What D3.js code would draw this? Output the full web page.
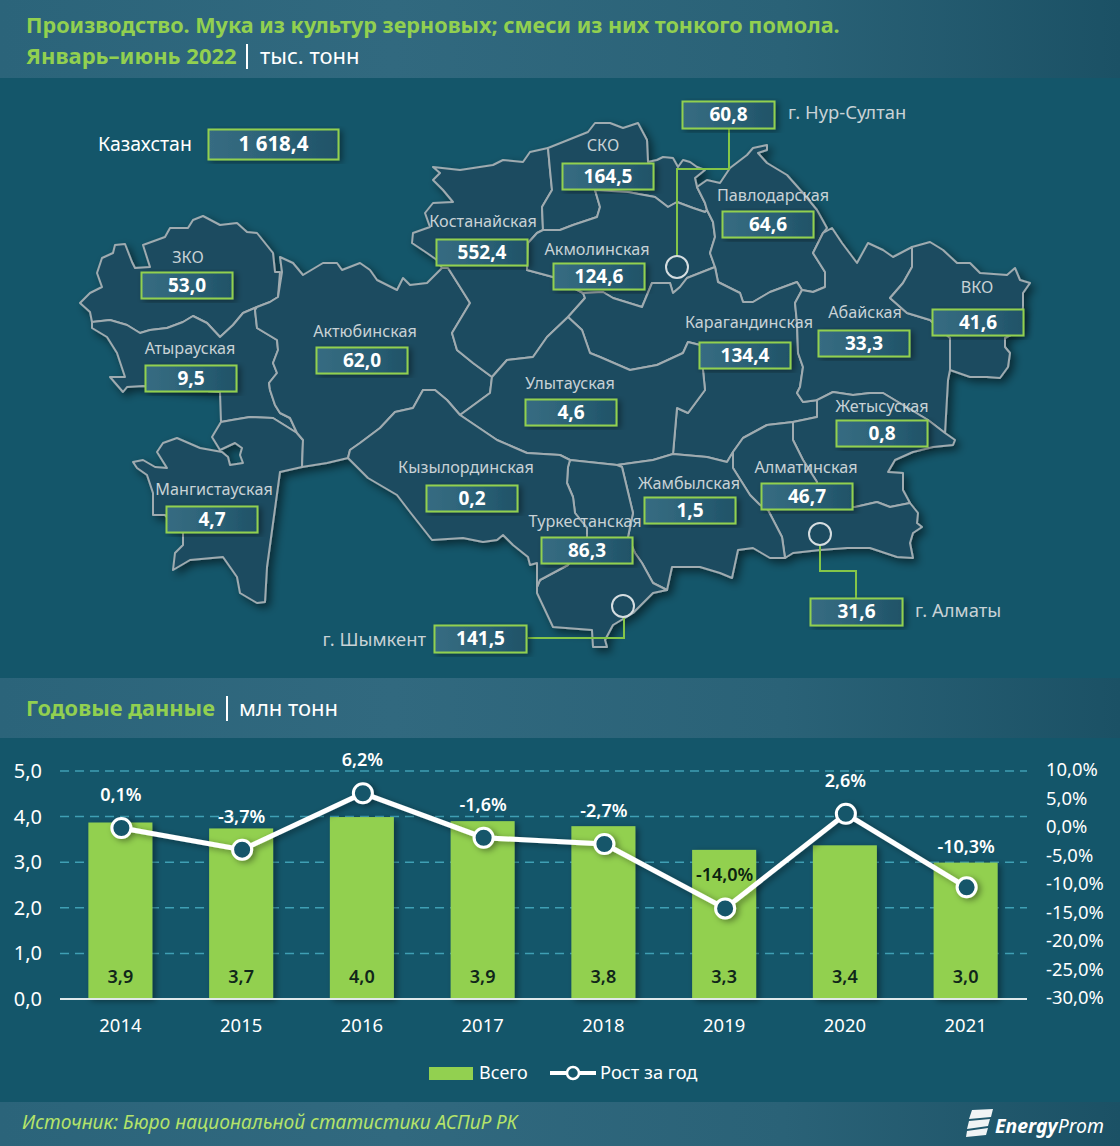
<!DOCTYPE html>
<html>
<head>
<meta charset="utf-8">
<script src="https://cdn.jsdelivr.net/npm/d3@7"></script>
<style>
  html, body { margin: 0; padding: 0; background: #14566a; }
  svg { display: block; }
  text { font-family: "Noto Sans", "Open Sans", sans-serif; }
  .region-label { fill: #c8d2d6; font-size: 16.2px; text-anchor: middle; }
  .box-value { fill: #fff; font-size: 19px; font-weight: 700; text-anchor: middle; }
  .tick text { fill: #fff; font-size: 18.4px; }
  .left-axis .tick text { font-size: 20px; }
</style>
</head>
<body>
<svg id="chart" width="1120" height="1146"></svg>
<script>
// Map values, thousand tons
var regionNames = ["ЗКО", "Атырауская", "Мангистауская", "Актюбинская", "Костанайская", "СКО", "Акмолинская", "Павлодарская",
  "Карагандинская", "Улытауская", "Абайская", "ВКО", "Жетысуская", "Алматинская", "Жамбылская", "Туркестанская", "Кызылординская"];
var regionValues = [53.0, 9.5, 4.7, 62.0, 552.4, 164.5, 124.6, 64.6, 134.4, 4.6, 33.3, 41.6, 0.8, 46.7, 1.5, 86.3, 0.2];
var cityNames = ["г. Нур-Султан", "г. Алматы", "г. Шымкент"];
var cityValues = [60.8, 31.6, 141.5];
var totalName = "Казахстан";
var totalValue = 1618.4;

// Yearly values
var years = ["2014", "2015", "2016", "2017", "2018", "2019", "2020", "2021"];
var totals = [3.87, 3.74, 3.99, 3.90, 3.79, 3.27, 3.37, 2.99];
var growth = [0.1, -3.7, 6.2, -1.6, -2.7, -14.0, 2.6, -10.3];
var leftTicks = [0, 1, 2, 3, 4, 5];
var rightTicks = [-30, -25, -20, -15, -10, -5, 0, 5, 10];

// Region outlines
var outlines = {
  "ЗКО": [[80,303],[90,293],[102,287],[97,273],[102,258],[113,253],[115,245],[125,244],[132,262],[135,268],[150,267],[143,245],[165,237],[170,228],[188,228],[193,220],[203,216],[220,225],[237,223],[247,232],[257,233],[273,253],[275,272],[280,272],[278,297],[270,302],[257,307],[243,313],[233,325],[220,337],[207,323],[193,316],[183,322],[167,328],[150,330],[140,333],[127,325],[110,320],[92,322],[90,312]],
  "Атырауская": [[92,322],[110,320],[127,325],[140,333],[150,330],[167,328],[183,322],[193,316],[207,323],[220,337],[233,325],[243,313],[257,307],[255,310],[257,328],[277,340],[278,350],[273,363],[277,373],[269,383],[270,390],[275,405],[280,413],[290,418],[297,433],[273,418],[250,417],[232,420],[221,422],[220,392],[143,386],[127,387],[123,392],[110,377],[125,377],[117,353],[107,337],[92,328]],
  "Мангистауская": [[221,422],[232,420],[250,417],[273,418],[297,433],[303,440],[302,467],[280,472],[267,567],[265,602],[257,603],[240,593],[237,577],[223,557],[190,560],[173,570],[175,553],[183,545],[183,533],[165,515],[153,515],[153,493],[147,475],[137,468],[133,462],[143,460],[155,467],[167,468],[157,452],[163,443],[177,438],[200,448],[222,452],[228,457],[230,465],[243,463],[240,455],[242,448],[235,443],[220,450],[212,437]],
  "Актюбинская": [[280,257],[282,272],[278,297],[270,302],[257,307],[255,310],[257,328],[277,340],[278,350],[273,363],[277,373],[269,383],[270,390],[275,405],[280,413],[290,418],[297,433],[303,440],[302,467],[327,463],[348,458],[350,450],[360,443],[380,428],[395,412],[413,408],[423,390],[435,390],[447,400],[460,415],[490,393],[492,377],[473,363],[457,350],[452,333],[470,303],[460,287],[448,268],[442,268],[427,283],[410,285],[403,278],[397,290],[377,280],[370,270],[360,263],[342,270],[337,263],[323,263],[303,275],[293,263]],
  "Костанайская": [[433,167],[460,170],[493,165],[503,160],[523,162],[530,152],[548,148],[550,170],[552,190],[542,207],[543,230],[537,233],[528,243],[527,270],[553,277],[583,293],[585,298],[568,317],[547,337],[533,357],[507,360],[492,377],[473,363],[457,350],[452,333],[470,303],[460,287],[448,268],[442,268],[437,260],[427,253],[412,243],[413,233],[430,227],[425,213],[433,203],[453,202],[443,190],[433,180],[440,173]],
  "СКО": [[548,148],[573,138],[588,132],[595,123],[610,123],[623,128],[638,123],[647,140],[648,162],[657,160],[663,157],[673,158],[678,167],[683,160],[690,162],[697,167],[705,170],[695,178],[697,187],[705,203],[707,210],[705,212],[693,208],[677,202],[668,207],[655,197],[628,192],[600,192],[595,190],[600,207],[597,217],[573,225],[560,230],[543,230],[542,207],[552,190],[550,170]],
  "Акмолинская": [[543,230],[560,230],[573,225],[597,217],[600,207],[595,190],[628,192],[655,197],[668,207],[677,202],[693,208],[705,212],[707,210],[713,222],[715,237],[710,253],[715,267],[687,278],[680,287],[673,293],[670,283],[652,283],[642,307],[613,298],[603,292],[583,293],[553,277],[527,270],[528,243],[537,233]],
  "Павлодарская": [[730,168],[747,155],[753,148],[767,145],[767,150],[758,153],[767,163],[787,175],[803,193],[817,210],[827,228],[823,233],[813,253],[825,272],[825,287],[813,292],[802,290],[797,282],[770,292],[753,302],[743,302],[740,293],[718,282],[715,267],[710,253],[715,237],[713,222],[707,210],[705,203],[697,187],[707,180],[720,183]],
  "Карагандинская": [[568,317],[585,298],[583,293],[603,292],[613,298],[642,307],[652,283],[670,283],[673,293],[680,287],[687,278],[715,267],[718,282],[740,293],[743,302],[753,302],[770,292],[797,282],[802,290],[795,303],[797,323],[798,353],[803,367],[800,387],[797,393],[803,402],[817,400],[817,417],[793,422],[767,425],[743,438],[733,452],[727,462],[707,457],[673,454],[677,408],[688,413],[705,390],[703,370],[700,345],[688,342],[683,353],[657,365],[630,370],[600,357],[590,353],[582,330]],
  "Улытауская": [[460,415],[490,393],[492,377],[507,360],[533,357],[547,337],[568,317],[582,330],[590,353],[600,357],[630,370],[657,365],[683,353],[688,342],[700,345],[703,370],[705,390],[688,413],[677,408],[673,454],[653,460],[617,465],[570,460],[560,455],[527,453],[497,440]],
  "Абайская": [[823,233],[832,228],[842,243],[857,263],[868,243],[883,250],[893,257],[912,247],[912,267],[903,283],[890,298],[907,313],[930,320],[950,338],[950,370],[948,380],[945,433],[928,420],[883,393],[870,393],[853,395],[833,392],[818,400],[803,402],[797,393],[800,387],[803,367],[798,353],[797,323],[795,303],[802,290],[813,292],[825,287],[825,272],[813,253]],
  "ВКО": [[912,247],[930,242],[943,250],[957,263],[970,263],[980,273],[1007,275],[1015,268],[1020,280],[1030,283],[1023,293],[1023,307],[1020,330],[1005,338],[1005,347],[1010,353],[1008,367],[1000,378],[987,377],[970,377],[950,370],[950,338],[930,320],[907,313],[890,298],[903,283],[912,267]],
  "Жетысуская": [[817,417],[817,400],[833,392],[853,395],[870,393],[883,393],[928,420],[945,433],[955,440],[953,445],[933,447],[913,452],[895,460],[888,472],[903,473],[903,490],[910,503],[890,507],[877,502],[855,507],[817,507],[817,482],[803,460],[793,440],[793,422]],
  "Алматинская": [[733,452],[743,438],[767,425],[793,422],[793,440],[803,460],[817,482],[817,507],[855,507],[877,502],[890,507],[910,503],[918,513],[917,523],[922,527],[913,533],[910,543],[913,558],[897,557],[870,548],[847,548],[820,550],[793,553],[785,558],[782,537],[768,510],[760,505],[750,495],[733,468]],
  "Жамбылская": [[617,465],[653,460],[673,454],[707,457],[727,462],[733,452],[733,468],[750,495],[760,505],[768,510],[782,537],[785,558],[770,558],[753,548],[738,550],[732,578],[720,573],[700,567],[672,567],[667,590],[653,583],[642,563],[635,553],[628,537],[633,513],[622,467]],
  "Туркестанская": [[570,460],[617,465],[622,467],[633,513],[628,537],[635,553],[642,563],[653,583],[667,590],[653,593],[633,613],[613,625],[605,640],[607,647],[593,647],[592,630],[553,627],[537,593],[537,587],[540,580],[568,565],[587,537],[587,528],[575,513],[573,497],[567,483],[568,467]],
  "Кызылординская": [[348,458],[350,450],[360,443],[380,428],[395,412],[413,408],[423,390],[435,390],[447,400],[460,415],[497,440],[527,453],[560,455],[570,460],[568,467],[567,483],[573,497],[575,513],[587,528],[587,537],[568,565],[540,580],[537,587],[537,563],[530,565],[528,557],[513,545],[503,535],[497,540],[483,542],[463,538],[432,540],[410,512],[397,495],[368,478]]
};

// Where the label and the value box of each map entry sit: [box x, box y, label x, label y]
var placement = {
  "ЗКО": [141,272,188,257], "Атырауская": [145,365,190,348], "Мангистауская": [166,506,214,489],
  "Актюбинская": [316,347,365,331], "Костанайская": [436,239,483,221], "СКО": [562,163,603,145],
  "Акмолинская": [553,263,597,249], "Павлодарская": [722,211,773,195], "Карагандинская": [699,342,749,322],
  "Улытауская": [525,399,570,383], "Абайская": [818,330,865,312], "ВКО": [932,309,977,287],
  "Жетысуская": [836,420,882,406], "Алматинская": [761,483,806,467], "Жамбылская": [644,497,689,483],
  "Туркестанская": [541,537,585,521], "Кызылординская": [426,485,466,467]
};
var cityPlacement = {
  "г. Нур-Султан": { box: [682,101], label: [788,113], circle: [677,267], path: [[729,128],[729,169],[677,169],[677,256]] },
  "г. Алматы": { box: [810,598], label: [915,611], circle: [820,534], path: [[820,545],[820,571],[856,571],[856,598]] },
  "г. Шымкент": { box: [434,625], label: [426,640], circle: [623,606], path: [[528,638],[624,638],[624,617]] }
};

var green = "#92d050";
var bg = "#14566a";
var svg = d3.select("#chart");
var defs = svg.append("defs");
var ru = d3.formatLocale({ decimal: ",", thousands: " ", grouping: [3], currency: ["", ""], minus: "-" });
var f1 = ru.format(",.1f");

function addGradient(id, stops) {
  var g = defs.append("linearGradient").attr("id", id);
  stops.forEach(function (s) {
    g.append("stop").attr("offset", s[0]).attr("stop-color", s[1]);
  });
}
addGradient("band", [[0, "#2b647a"], [0.35, "#31697f"], [0.7, "#2a6277"], [1, "#1b5165"]]);
addGradient("box", [[0, "#376c82"], [0.5, "#2c6277"], [1, "#1f5267"]]);

function addShadow(id, dx, dy, blur, op) {
  defs.append("filter").attr("id", id)
    .attr("x", "-10%").attr("y", "-10%").attr("width", "125%").attr("height", "125%")
    .append("feDropShadow")
    .attr("dx", dx).attr("dy", dy).attr("stdDeviation", blur)
    .attr("flood-color", "#000").attr("flood-opacity", op);
}
addShadow("mapShadow", 4, 4, 4, 0.5);
addShadow("soft", 3, 2, 3, 0.4);

svg.append("rect").attr("width", 1120).attr("height", 1146).attr("fill", bg);

// Bands
svg.append("rect").attr("width", 1120).attr("height", 78).attr("fill", "url(#band)");
svg.append("rect").attr("y", 678).attr("width", 1120).attr("height", 60).attr("fill", "url(#band)");
svg.append("rect").attr("y", 1102).attr("width", 1120).attr("height", 44).attr("fill", "url(#band)");

// Titles
svg.append("text").attr("x", 26).attr("y", 33).attr("fill", green)
  .attr("font-size", 21.6).attr("font-weight", 700)
  .text("Производство. Мука из культур зерновых; смеси из них тонкого помола.");
svg.append("text").attr("x", 26).attr("y", 64).attr("fill", green)
  .attr("font-size", 22).attr("font-weight", 700).text("Январь–июнь 2022");
svg.append("rect").attr("x", 246).attr("y", 44).attr("width", 2).attr("height", 25).attr("fill", "#fff");
svg.append("text").attr("x", 260).attr("y", 64).attr("fill", "#fff")
  .attr("font-size", 22).text("тыс. тонн");
svg.append("text").attr("x", 26).attr("y", 716).attr("fill", green)
  .attr("font-size", 21.8).attr("font-weight", 700).text("Годовые данные");
svg.append("rect").attr("x", 226).attr("y", 696).attr("width", 2).attr("height", 25).attr("fill", "#fff");
svg.append("text").attr("x", 239).attr("y", 716).attr("fill", "#fff")
  .attr("font-size", 22).text("млн тонн");

// Map
var outline = d3.line().curve(d3.curveLinearClosed);
var map = svg.append("g").attr("filter", "url(#mapShadow)");
regionNames.forEach(function (name) {
  map.append("path")
    .attr("d", outline(outlines[name]))
    .attr("fill", "#1e4c60")
    .attr("stroke", "#9fabb0")
    .attr("stroke-width", 2)
    .attr("stroke-linejoin", "round");
});

// Connector lines of the cities
var link = d3.line();
cityNames.forEach(function (name) {
  var c = cityPlacement[name];
  svg.append("path").attr("d", link(c.path)).attr("fill", "none")
    .attr("stroke", "#84c548").attr("stroke-width", 2);
  svg.append("circle").attr("cx", c.circle[0]).attr("cy", c.circle[1]).attr("r", 11)
    .attr("fill", "none").attr("stroke", "#d5dde0").attr("stroke-width", 2);
});

function valueBox(x, y, w, h, text, size) {
  svg.append("rect").attr("x", x + 0.5).attr("y", y + 0.5).attr("width", w - 1).attr("height", h)
    .attr("fill", "url(#box)").attr("stroke", green).attr("stroke-width", 2)
    .attr("filter", "url(#soft)");
  svg.append("text").attr("class", "box-value")
    .attr("x", x + w / 2).attr("y", y + h / 2 + 6.5)
    .style("font-size", size ? size + "px" : null)
    .text(text);
}

regionNames.forEach(function (name, i) {
  var p = placement[name];
  valueBox(p[0], p[1], 92, 26, f1(regionValues[i]));
  svg.append("text").attr("class", "region-label").attr("x", p[2]).attr("y", p[3] + 5.5).text(name);
});

cityNames.forEach(function (name, i) {
  var c = cityPlacement[name];
  valueBox(c.box[0], c.box[1], 93, 27, f1(cityValues[i]));
  svg.append("text").attr("class", "region-label")
    .attr("x", c.label[0]).attr("y", c.label[1] + 6)
    .style("text-anchor", name == "г. Шымкент" ? "end" : "start")
    .style("font-size", "18.4px")
    .text(name);
});

valueBox(208, 129, 131, 30, f1(totalValue), 20.5);
svg.append("text").attr("x", 98).attr("y", 151).attr("fill", "#fff").attr("font-size", 19.5).text(totalName);

// Yearly chart
var xBand = d3.scaleBand().domain(years).range([60, 1026]).paddingInner(0.47).paddingOuter(0.235);
var yLeft = d3.scaleLinear().domain([0, 5]).range([999, 771]);
var yRight = d3.scaleLinear().domain([-30, 10]).range([999.6, 771.6]);
var center = function (d) { return xBand(d) + xBand.bandwidth() / 2; };

leftTicks.slice(1).forEach(function (t) {
  svg.append("line").attr("x1", 60).attr("x2", 1027).attr("y1", yLeft(t)).attr("y2", yLeft(t))
    .attr("stroke", "#3f9fb4").attr("stroke-width", 1.5).attr("stroke-dasharray", "9 6");
});

var barGroup = svg.append("g").attr("filter", "url(#soft)");
years.forEach(function (y, i) {
  barGroup.append("rect").attr("x", xBand(y)).attr("width", xBand.bandwidth())
    .attr("y", yLeft(totals[i])).attr("height", yLeft(0) - yLeft(totals[i]))
    .attr("fill", "#92d050");
});

svg.append("line").attr("x1", 60).attr("x2", 1027).attr("y1", 999).attr("y2", 999)
  .attr("stroke", "#dfe8ea").attr("stroke-width", 2);

years.forEach(function (y, i) {
  svg.append("text").attr("x", center(y)).attr("y", 983).attr("text-anchor", "middle")
    .attr("fill", "#10261a").attr("font-size", 18).attr("font-weight", 600).text(f1(totals[i]));
});

// Axes
var leftAxis = d3.axisLeft(yLeft).tickValues(leftTicks).tickSize(0).tickPadding(0).tickFormat(f1);
svg.append("g").attr("class", "left-axis").attr("transform", "translate(42,0)").call(leftAxis).call(function (g) { g.select(".domain").remove(); });

var rightAxis = d3.axisRight(yRight).tickValues(rightTicks).tickSize(0).tickPadding(0)
  .tickFormat(function (d) { return f1(d) + "%"; });
svg.append("g").attr("transform", "translate(1046,-1.5)").call(rightAxis).call(function (g) { g.select(".domain").remove(); });

var bottomAxis = d3.axisBottom(xBand).tickSize(0).tickPadding(0);
svg.append("g").attr("transform", "translate(0,1016)").call(bottomAxis).call(function (g) { g.select(".domain").remove(); })
  .selectAll("text").attr("y", 3);

// Growth line
var growthLine = d3.line()
  .x(function (d, i) { return center(years[i]) + 1; })
  .y(function (d) { return yRight(d); });
var lineGroup = svg.append("g").attr("filter", "url(#soft)");
lineGroup.append("path").attr("d", growthLine(growth)).attr("fill", "none")
  .attr("stroke", "#fff").attr("stroke-width", 5);
growth.forEach(function (d, i) {
  lineGroup.append("circle").attr("cx", center(years[i]) + 1).attr("cy", yRight(d)).attr("r", 9.5)
    .attr("fill", bg).attr("stroke", "#fff").attr("stroke-width", 3);
});
growth.forEach(function (d, i) {
  svg.append("text").attr("x", center(years[i]) + 0.5).attr("y", yRight(d) - (d == -10.3 ? 34 : 27))
    .attr("text-anchor", "middle").attr("font-size", 18).attr("font-weight", 600)
    .attr("fill", d == -14 ? "#0c2410" : "#fff")
    .text(f1(d) + "%");
});

// Legend
svg.append("rect").attr("x", 429).attr("y", 1067).attr("width", 44).attr("height", 13).attr("fill", "#92d050");
svg.append("text").attr("x", 479).attr("y", 1079).attr("fill", "#fff").attr("font-size", 18).text("Всего");
svg.append("line").attr("x1", 550).attr("x2", 596).attr("y1", 1073).attr("y2", 1073).attr("stroke", "#fff").attr("stroke-width", 4);
svg.append("circle").attr("cx", 573).attr("cy", 1073).attr("r", 6).attr("fill", bg).attr("stroke", "#fff").attr("stroke-width", 2.5);
svg.append("text").attr("x", 600).attr("y", 1079).attr("fill", "#fff").attr("font-size", 18.3).text("Рост за год");

// Footer
svg.append("text").attr("x", 22).attr("y", 1129).attr("fill", "#b4e36a")
  .attr("font-size", 19.2).attr("font-style", "italic")
  .text("Источник: Бюро национальной статистики АСПиР РК");

// EnergyProm logo stripes
var logoStripes = [
  [[972,1110],[993,1109],[991,1117],[969,1119]],
  [[969,1121],[990,1119],[988,1126],[967,1129]],
  [[967,1131],[988,1128],[986,1135],[966,1137]]
];
logoStripes.forEach(function (s) {
  svg.append("path").attr("d", outline(s)).attr("fill", "#f1f4f5");
});
var logo = svg.append("text").attr("x", 995).attr("y", 1133).attr("fill", "#fff").attr("font-size", 19.4).attr("font-style", "italic");
logo.append("tspan").attr("font-weight", 700).text("Energy");
logo.append("tspan").text("Prom");
</script>
</body>
</html>
